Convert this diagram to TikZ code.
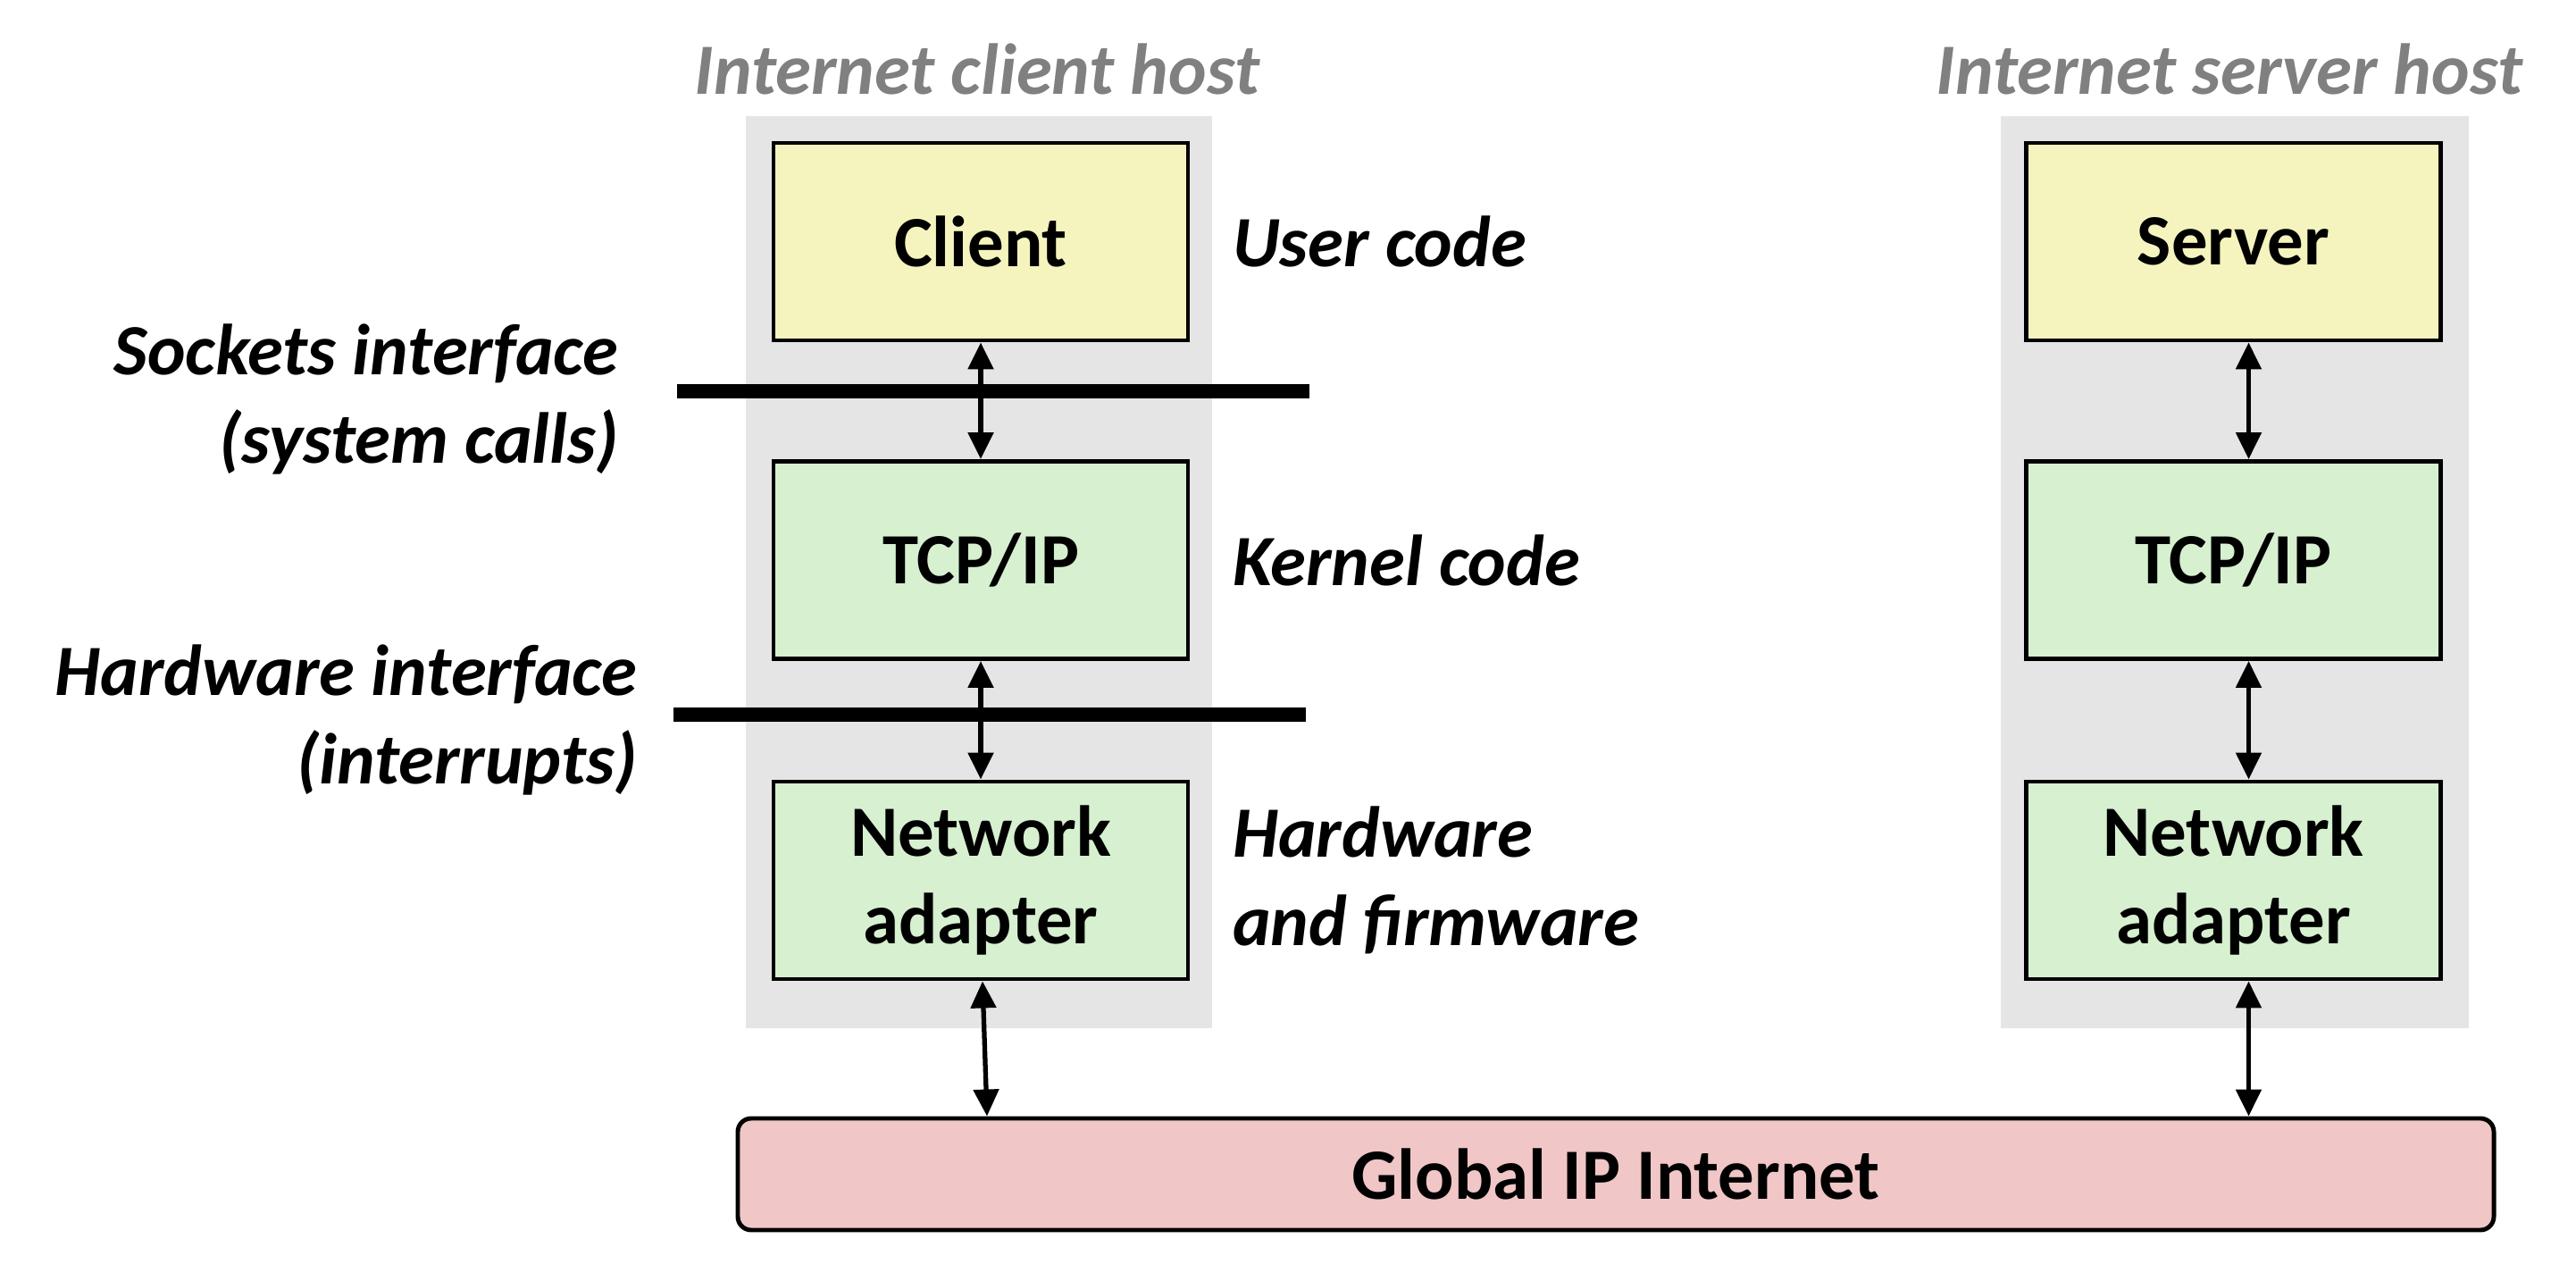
\documentclass[tikz,border=0pt]{standalone}
\usepackage{fontspec}
\setmainfont{Carlito}
\usetikzlibrary{arrows.meta,calc,positioning,backgrounds}
\definecolor{useryellow}{RGB}{245,244,190}
\definecolor{kernelgreen}{RGB}{214,240,208}
\definecolor{netpink}{RGB}{240,198,199}
\definecolor{hostgray}{RGB}{229,229,229}
\definecolor{titlegray}{RGB}{128,128,128}

\begin{document}
\begin{tikzpicture}[>={Triangle[length=0.3cm,width=0.28cm]},
  layerbox/.style={draw,line width=1.4pt,minimum width=4.64cm,minimum height=2.21cm,
    align=center,font=\fontsize{23}{28}\selectfont\bfseries},
  userbox/.style={layerbox,fill=useryellow},
  kernbox/.style={layerbox,fill=kernelgreen},
  lbl/.style={inner sep=0pt,font=\fontsize{23}{28}\selectfont\bfseries\itshape},
  hosttitle/.style={lbl,text=titlegray},
  biarrow/.style={<->,line width=1.5pt},
  iface/.style={line width=4.3pt}]
\useasboundingbox (0,0) rectangle (28.84,14.14);
% client host
\node[userbox] (client) at (10.98,11.435) {Client};
\node[kernbox] (ctcp) at (10.98,7.87) {TCP/IP};
\node[kernbox] (cadapter) at (10.98,4.285) {Network\\adapter};
% server host
\node[userbox] (server) at (25.005,11.435) {Server};
\node[kernbox] (stcp) at (25.005,7.87) {TCP/IP};
\node[kernbox] (sadapter) at (25.005,4.285) {Network\\adapter};
\node[draw,line width=1.4pt,fill=netpink,rounded corners=0.15cm,minimum width=19.66cm,minimum height=1.25cm,
  font=\fontsize{23}{28}\selectfont\bfseries] (internet) at (18.09,0.995) {Global IP Internet};
\begin{scope}[on background layer]
\fill[hostgray] ($(client.north west)+(-0.29,0.28)$) rectangle ($(cadapter.south east)+(0.25,-0.53)$);
\fill[hostgray] ($(server.north west)+(-0.26,0.28)$) rectangle ($(sadapter.south east)+(0.29,-0.53)$);
\end{scope}
\node[hosttitle] (ctitle) at (10.94,13.37) {Internet client host};
\node[hosttitle] (stitle) at (24.96,13.37) {Internet server host};
% layers
\node[lbl,anchor=west,right=0.47cm of client] (usercode) {User code};
\node[lbl,anchor=west,right=0.47cm of ctcp] (kerncode) {Kernel code};
\node[lbl,anchor=west,right=0.47cm of cadapter,align=left] (hwcode) {Hardware\\and firmware};
% interfaces
\draw[iface] (7.58,9.76) -- (14.66,9.76);
\draw[iface] (7.54,6.14) -- (14.62,6.14);
\node[lbl,anchor=east,align=right] (sockif) at (6.93,9.67) {Sockets interface\\(system calls)};
\node[lbl,anchor=east,align=right] (hwif) at (7.14,6.08) {Hardware interface\\(interrupts)};
% arrows
\draw[biarrow] (client) -- (ctcp);
\draw[biarrow] (ctcp) -- (cadapter);
\draw[biarrow] ([xshift=0.02cm]cadapter.south) -- ([xshift=0.07cm]cadapter.south |- internet.north);
\draw[biarrow] ([xshift=0.17cm]server.south) -- ([xshift=0.17cm]stcp.north);
\draw[biarrow] ([xshift=0.17cm]stcp.south) -- ([xshift=0.17cm]sadapter.north);
\draw[biarrow] ([xshift=0.17cm]sadapter.south) -- ([xshift=0.17cm]sadapter.south |- internet.north);
\end{tikzpicture}
\end{document}
